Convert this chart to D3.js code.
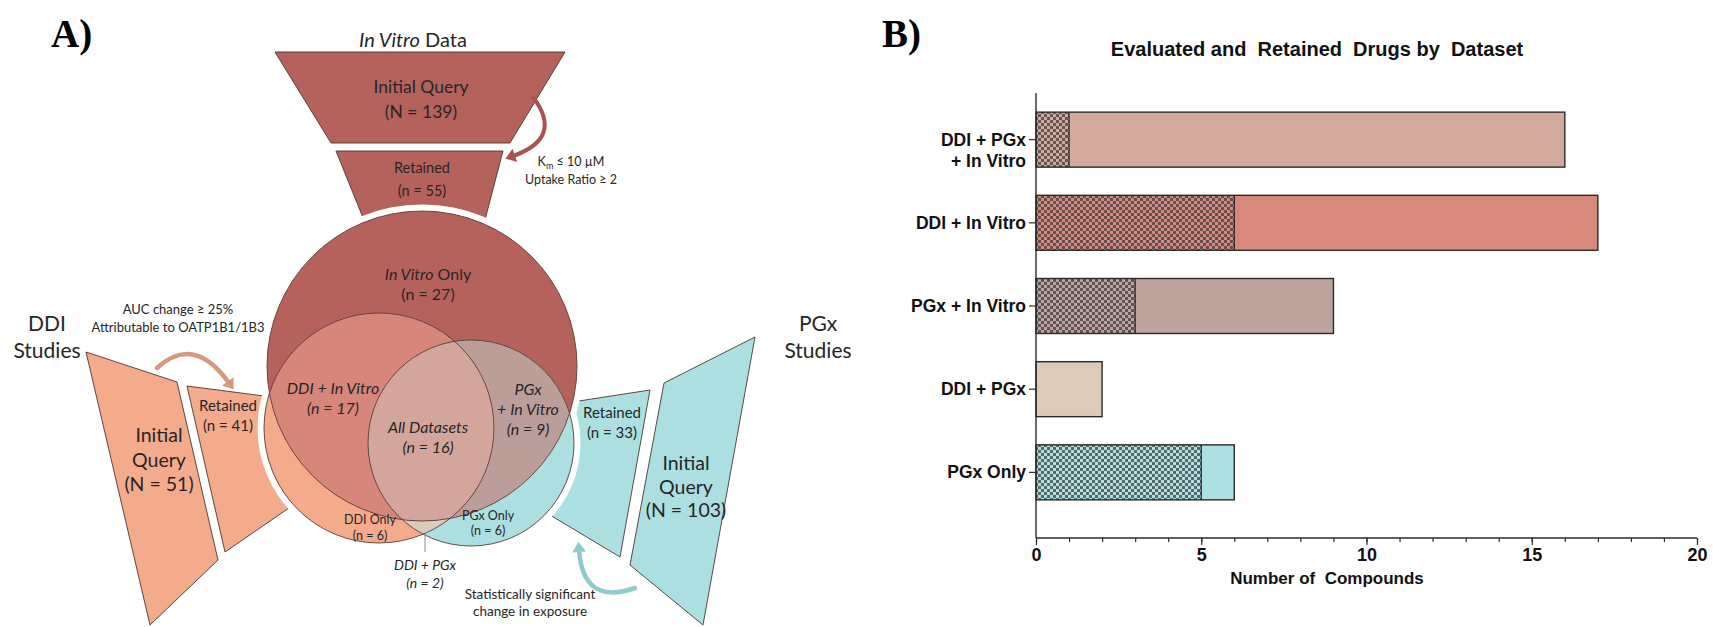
<!DOCTYPE html>
<html>
<head>
<meta charset="utf-8">
<script src="https://cdn.jsdelivr.net/npm/d3@7"></script>
<style>
  html, body { margin: 0; padding: 0; background: #fff; }
  svg { display: block; }
</style>
</head>
<body>
<svg id="fig" width="1713" height="627"></svg>
<script>
// ---------------- data ----------------
// Panel B: evaluated and retained drugs per dataset combination
const categories = [["DDI + PGx", "+ In Vitro"], ["DDI + In Vitro"], ["PGx + In Vitro"], ["DDI + PGx"], ["PGx Only"]];
const retainedCounts = [1, 6, 3, 0, 5];
const evaluatedCounts = [16, 17, 9, 2, 6];
const xTicks = [0, 5, 10, 15, 20];

// Panel A: screening funnels (initial query, retained)
const inVitroFunnel = [139, 55];
const ddiFunnel = [51, 41];
const pgxFunnel = [103, 33];

// Panel A: Venn region counts
const vennLabels = ["In Vitro Only", "DDI + In Vitro", "All Datasets", "PGx + In Vitro", "DDI Only", "PGx Only", "DDI + PGx"];
const vennCounts = [27, 17, 16, 9, 6, 6, 2];

// ---------------- styles ----------------
const barColors = ["#d3a89d", "#d9897b", "#bea39e", "#dccbbb", "#ade0e1"];
const col = {
  inVitro: "#b5625d", ddi: "#f4ab8c", pgx: "#acdfe0",
  ddiVitro: "#d6877a", pgxVitro: "#bb9e9a", all: "#d2a69c", ddiPgx: "#dccbbb",
  stroke: "#5b3b37", text: "#262626"
};
const fontA = "Lato, 'Open Sans', sans-serif";
const fontB = "'Liberation Sans', Arial, sans-serif";
const fontSerif = "'Liberation Serif', 'Times New Roman', serif";

const svg = d3.select("#fig");
const defs = svg.append("defs");

// ================= Panel B =================
const gB = svg.append("g");
const catKeys = categories.map(c => c.join(" "));
const x = d3.scaleLinear().domain([0, 20]).range([1036, 1697]);
const y = d3.scaleBand().domain(catKeys).range([98, 514]).paddingInner(0.339).paddingOuter(0.17);
const axisY = 538;

// checkerboard fills for the retained share of each bar
barColors.forEach((c, i) => {
  const dark = d3.interpolateRgb(c, "#333333")(0.7);
  const p = defs.append("pattern").attr("id", "chk" + i)
    .attr("width", 6).attr("height", 6).attr("patternUnits", "userSpaceOnUse");
  p.append("rect").attr("width", 6).attr("height", 6).attr("fill", c);
  p.append("rect").attr("width", 3).attr("height", 3).attr("fill", dark);
  p.append("rect").attr("x", 3).attr("y", 3).attr("width", 3).attr("height", 3).attr("fill", dark);
});

gB.append("text").attr("x", 882).attr("y", 47)
  .attr("font-family", fontSerif).attr("font-weight", "bold").attr("font-size", 39).text("B)");

gB.append("text").attr("x", 1317).attr("y", 56).attr("text-anchor", "middle")
  .attr("font-family", fontB).attr("font-weight", "bold").attr("font-size", 20)
  .attr("fill", "#111").style("white-space", "pre")
  .text("Evaluated and  Retained  Drugs by  Dataset");

const bars = gB.append("g").selectAll("g").data(catKeys).join("g");
bars.append("rect")
  .attr("x", x(0)).attr("y", d => y(d))
  .attr("width", (d, i) => x(evaluatedCounts[i]) - x(0)).attr("height", y.bandwidth())
  .attr("fill", (d, i) => barColors[i]);
bars.append("rect")
  .attr("x", x(0)).attr("y", d => y(d))
  .attr("width", (d, i) => x(retainedCounts[i]) - x(0)).attr("height", y.bandwidth())
  .attr("fill", (d, i) => `url(#chk${i})`);
bars.filter((d, i) => retainedCounts[i] > 0).append("line")
  .attr("x1", d => x(retainedCounts[catKeys.indexOf(d)]))
  .attr("x2", d => x(retainedCounts[catKeys.indexOf(d)]))
  .attr("y1", d => y(d)).attr("y2", d => y(d) + y.bandwidth())
  .attr("stroke", "#2b2b2b").attr("stroke-width", 1.3);
bars.append("rect")
  .attr("x", x(0)).attr("y", d => y(d))
  .attr("width", (d, i) => x(evaluatedCounts[i]) - x(0)).attr("height", y.bandwidth())
  .attr("fill", "none").attr("stroke", "#2b2b2b").attr("stroke-width", 1.4);

// x axis: minor ticks at every unit, labelled major ticks
const gx = gB.append("g").attr("transform", `translate(0,${axisY})`)
  .call(d3.axisBottom(x).tickValues(d3.range(0, 21)).tickSize(4).tickFormat(""));
gx.select(".domain").remove();
const gx2 = gB.append("g").attr("transform", `translate(0,${axisY})`)
  .call(d3.axisBottom(x).tickValues(xTicks).tickSize(7).tickPadding(3).tickFormat(d3.format("d")));
gx2.select(".domain").attr("stroke", "#2b2b2b").attr("stroke-width", 1.4).attr("d", `M${x(0)},0H${x(20)}`);
gB.selectAll(".tick line").attr("stroke", "#2b2b2b").attr("stroke-width", 1.2);
gx2.selectAll(".tick text").attr("font-family", fontB).attr("font-weight", "bold")
  .attr("font-size", 18).attr("fill", "#111");

gB.append("text").attr("x", 1327).attr("y", 584).attr("text-anchor", "middle")
  .attr("font-family", fontB).attr("font-weight", "bold").attr("font-size", 17)
  .attr("fill", "#111").style("white-space", "pre").text("Number of  Compounds");

// y axis
const gy = gB.append("g").attr("transform", `translate(${x(0)},0)`)
  .call(d3.axisLeft(y).tickSize(7).tickFormat(""));
gy.select(".domain").remove();
gy.selectAll(".tick line").attr("stroke", "#2b2b2b").attr("stroke-width", 1.2);
gB.append("line").attr("x1", x(0)).attr("x2", x(0)).attr("y1", 93).attr("y2", axisY)
  .attr("stroke", "#2b2b2b").attr("stroke-width", 1.4);

categories.forEach((lines, i) => {
  const cy = y(catKeys[i]) + y.bandwidth() / 2;
  const t = gB.append("text").attr("text-anchor", "end")
    .attr("font-family", fontB).attr("font-weight", "bold").attr("font-size", 17.5).attr("fill", "#111");
  lines.forEach((ln, j) => {
    t.append("tspan").attr("x", x(0) - 10).attr("y", cy + 6 + j * 21).text(ln);
  });
});

// ================= Panel A =================
const gA = svg.append("g");
gA.append("text").attr("x", 51).attr("y", 47)
  .attr("font-family", fontSerif).attr("font-weight", "bold").attr("font-size", 39).text("A)");

const circles = {
  big: { cx: 422, cy: 366, r: 155 },
  ddi: { cx: 379, cy: 428, r: 115 },
  pgx: { cx: 471, cy: 443, r: 103 }
};

const line = d3.line();
function box(pts, fill) {
  gA.append("path").attr("d", line(pts) + "Z").attr("fill", fill)
    .attr("stroke", "#4a3532").attr("stroke-width", 0.9);
}
// funnel shapes
box([[275, 52], [565, 52], [510, 143], [331, 143]], col.inVitro);
box([[336, 151], [503, 151], [481, 235], [370, 235]], col.inVitro);
box([[86, 352], [177, 382], [218, 560], [150, 625]], col.ddi);
box([[187, 386], [300, 400.7], [300, 500.4], [225, 552]], col.ddi);
box([[664, 383], [755, 337], [703, 625], [630, 565]], col.pgx);
box([[540, 407], [650, 390], [620, 557], [540, 509]], col.pgx);

// white gap ring around the Venn diagram
const gap = 6.5;
Object.values(circles).forEach(c => {
  gA.append("circle").attr("cx", c.cx).attr("cy", c.cy).attr("r", c.r + gap).attr("fill", "#fff");
});

// clip paths for overlaps
["big", "ddi"].forEach(k => {
  const c = circles[k];
  defs.append("clipPath").attr("id", "clip-" + k)
    .append("circle").attr("cx", c.cx).attr("cy", c.cy).attr("r", c.r);
});
function disc(g, c, fill) {
  g.append("circle").attr("cx", c.cx).attr("cy", c.cy).attr("r", c.r).attr("fill", fill);
}
disc(gA, circles.big, col.inVitro);
disc(gA, circles.ddi, col.ddi);
disc(gA, circles.pgx, col.pgx);
disc(gA.append("g").attr("clip-path", "url(#clip-ddi)"), circles.pgx, col.ddiPgx);
const inBig = gA.append("g").attr("clip-path", "url(#clip-big)");
disc(inBig, circles.ddi, col.ddiVitro);
disc(inBig, circles.pgx, col.pgxVitro);
disc(inBig.append("g").attr("clip-path", "url(#clip-ddi)"), circles.pgx, col.all);
Object.values(circles).forEach(c => {
  gA.append("circle").attr("cx", c.cx).attr("cy", c.cy).attr("r", c.r)
    .attr("fill", "none").attr("stroke", col.stroke).attr("stroke-width", 0.9);
});

// text helper: array of lines, each line a string or an array of [string, italic]
function label(xc, ys, lines, size) {
  const t = gA.append("text").attr("text-anchor", "middle").attr("font-family", fontA)
    .attr("font-size", size).attr("fill", col.text);
  lines.forEach((ln, j) => {
    const segs = typeof ln === "string" ? [[ln, false]] : ln;
    segs.forEach((s, k) => {
      const sp = t.append("tspan").text(s[0]).style("white-space", "pre");
      if (k === 0) sp.attr("x", xc).attr("y", ys[j]);
      if (s[1]) sp.attr("font-style", "italic");
    });
  });
  return t;
}

// funnel texts
label(413, [47], [[["In Vitro", true], [" Data", false]]], 20);
label(421, [93, 118], ["Initial Query", `(N = ${inVitroFunnel[0]})`], 17.5);
label(422, [173, 196], ["Retained", `(n = ${inVitroFunnel[1]})`], 14.5);
label(47, [331, 358], ["DDI", "Studies"], 21);
label(159, [442, 467, 491], ["Initial", "Query", `(N = ${ddiFunnel[0]})`], 19.5);
label(228, [411, 431], ["Retained", `(n = ${ddiFunnel[1]})`], 15);
label(818, [331, 358], ["PGx", "Studies"], 21);
label(686, [470, 494, 517], ["Initial", "Query", `(N = ${pgxFunnel[0]})`], 19.5);
label(612, [418, 438], ["Retained", `(n = ${pgxFunnel[1]})`], 15);

// criteria notes
const km = gA.append("text").attr("text-anchor", "middle").attr("font-family", fontA)
  .attr("font-size", 12.5).attr("fill", col.text).attr("x", 571).attr("y", 166);
km.append("tspan").text("K");
km.append("tspan").text("m").attr("font-size", 9).attr("dy", 3);
km.append("tspan").text(" ≤ 10 µM").attr("dy", -3).style("white-space", "pre");
label(571, [184], ["Uptake Ratio ≥ 2"], 12.5);
label(178, [314, 332], ["AUC change ≥ 25%", "Attributable to OATP1B1/1B3"], 13);
label(530, [599, 616], ["Statistically significant", "change in exposure"], 13.5);

// Venn texts
label(428, [280, 300], [[["In Vitro", true], [" Only", false]], `(n = ${vennCounts[0]})`], 16);
label(333, [394, 414], [[["DDI + In Vitro", true]], [[`(n = ${vennCounts[1]})`, true]]], 16);
label(428, [433, 453], [[["All Datasets", true]], [[`(n = ${vennCounts[2]})`, true]]], 16);
label(528, [395, 415, 435], [[["PGx", true]], [["+ In Vitro", true]], [[`(n = ${vennCounts[3]})`, true]]], 16);
label(370, [524, 540], ["DDI Only", `(n = ${vennCounts[4]})`], 12.5);
label(488, [520, 535], ["PGx Only", `(n = ${vennCounts[5]})`], 12.5);
label(425, [570, 588], [[["DDI + PGx", true]], [[`(n = ${vennCounts[6]})`, true]]], 14);
gA.append("line").attr("x1", 425).attr("x2", 425).attr("y1", 534).attr("y2", 552)
  .attr("stroke", "#8a8a8a").attr("stroke-width", 1);

// curved arrows
function arrow(p0, c, p1, color, w) {
  const path = d3.path();
  path.moveTo(p0[0], p0[1]);
  path.quadraticCurveTo(c[0], c[1], p1[0], p1[1]);
  gA.append("path").attr("d", path.toString()).attr("fill", "none")
    .attr("stroke", color).attr("stroke-width", w).attr("stroke-linecap", "round");
  const ang = Math.atan2(p1[1] - c[1], p1[0] - c[0]);
  const L = 10, Wd = 7;
  const tip = [p1[0] + Math.cos(ang) * L * 0.8, p1[1] + Math.sin(ang) * L * 0.8];
  const b1 = [p1[0] + Math.cos(ang + Math.PI / 2) * Wd - Math.cos(ang) * L * 0.2,
              p1[1] + Math.sin(ang + Math.PI / 2) * Wd - Math.sin(ang) * L * 0.2];
  const b2 = [p1[0] + Math.cos(ang - Math.PI / 2) * Wd - Math.cos(ang) * L * 0.2,
              p1[1] + Math.sin(ang - Math.PI / 2) * Wd - Math.sin(ang) * L * 0.2];
  gA.append("path").attr("d", line([tip, b1, b2]) + "Z").attr("fill", color);
}
arrow([533, 97], [564, 138], [513, 156], "#a9534e", 4);
arrow([157, 368], [194, 334], [229, 383], "#d49a80", 4.5);
arrow([635, 588], [583, 606], [579, 550], "#92c9cc", 4.5);
</script>
</body>
</html>
